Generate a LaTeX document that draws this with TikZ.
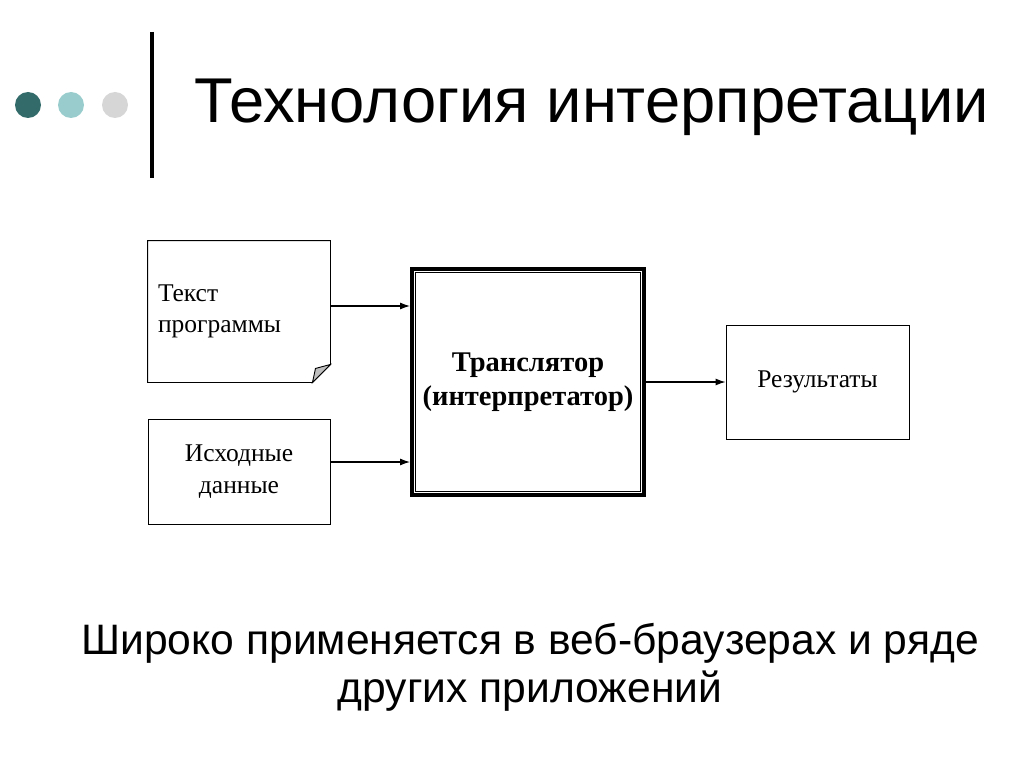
\documentclass[tikz,border=0pt]{standalone}
\usepackage{fontspec}
\setmainfont{Liberation Serif}
\newfontfamily\headfont{Liberation Sans}
\usetikzlibrary{positioning, arrows.meta}

\definecolor{dotdark}{HTML}{336B6B}
\definecolor{dotmid}{HTML}{99CCCC}
\definecolor{dotlight}{HTML}{D6D6D6}

\tikzset{
  box/.style={draw, line width=0.9pt, inner sep=0pt, align=center,
    font=\fontsize{25.5}{31.5}\selectfont},
  flow/.style={-{Latex[length=10pt,width=7pt]}, line width=1.1pt},
}

\begin{document}
\begin{tikzpicture}[x=1pt, y=-1pt]
  \useasboundingbox (0,0) rectangle (1024,767);
  % header
  \fill[dotdark] (28,105) circle (13);
  \fill[dotmid] (71,105) circle (13);
  \fill[dotlight] (115,105) circle (13);
  \draw[line width=4pt] (152,32) -- (152,178);
  \node[anchor=base west, inner sep=0pt, font=\headfont\fontsize{63.3}{70}\selectfont] (title) at (194,123) {Технология интерпретации};

  % boxes
  \node[box, draw=none, text width=162pt, inner xsep=10pt, minimum height=141pt, align=left] (prog) at (239,311.5) {Текст\\программы};
  \draw[line width=0.9pt] (prog.south west) -- (prog.north west) -- (prog.north east)
    -- ([yshift=18pt]prog.south east) -- ([xshift=-18pt]prog.south east) -- cycle;
  \filldraw[fill=lightgray, line width=0.9pt] ([yshift=18pt]prog.south east) -- ([xshift=-18pt]prog.south east)
    .. controls ([xshift=-16pt,yshift=9pt]prog.south east) .. ([xshift=-15pt,yshift=14pt]prog.south east) -- cycle;
  \node[box, minimum width=182pt, minimum height=105pt] (data) at (239,471.5) {Исходные\\данные};
  \node[box, line width=4pt, minimum width=232pt, minimum height=226pt,
    font=\bfseries\fontsize{28.5}{34}\selectfont] (trans) at (528,382) {Транслятор\\(интерпретатор)};
  \draw[line width=1.3pt] ([xshift=5.5pt,yshift=-5.5pt]trans.north west) rectangle ([xshift=-5.5pt,yshift=5.5pt]trans.south east);
  \node[box, minimum width=183pt, minimum height=114pt] (res) at (817.5,382) {Результаты};

  % arrows
  \draw[flow] (prog.east |- 0,306) -- (trans.west |- 0,306);
  \draw[flow] (data.east |- 0,462) -- (trans.west |- 0,462);
  \draw[flow] (trans.east |- res.west) -- (res.west);

  % footer
  \node[align=center, inner sep=0pt, font=\headfont\fontsize{42.6}{48}\selectfont] (note) at (530,667) {Широко применяется в веб-браузерах и ряде\\других приложений};
\end{tikzpicture}
\end{document}
